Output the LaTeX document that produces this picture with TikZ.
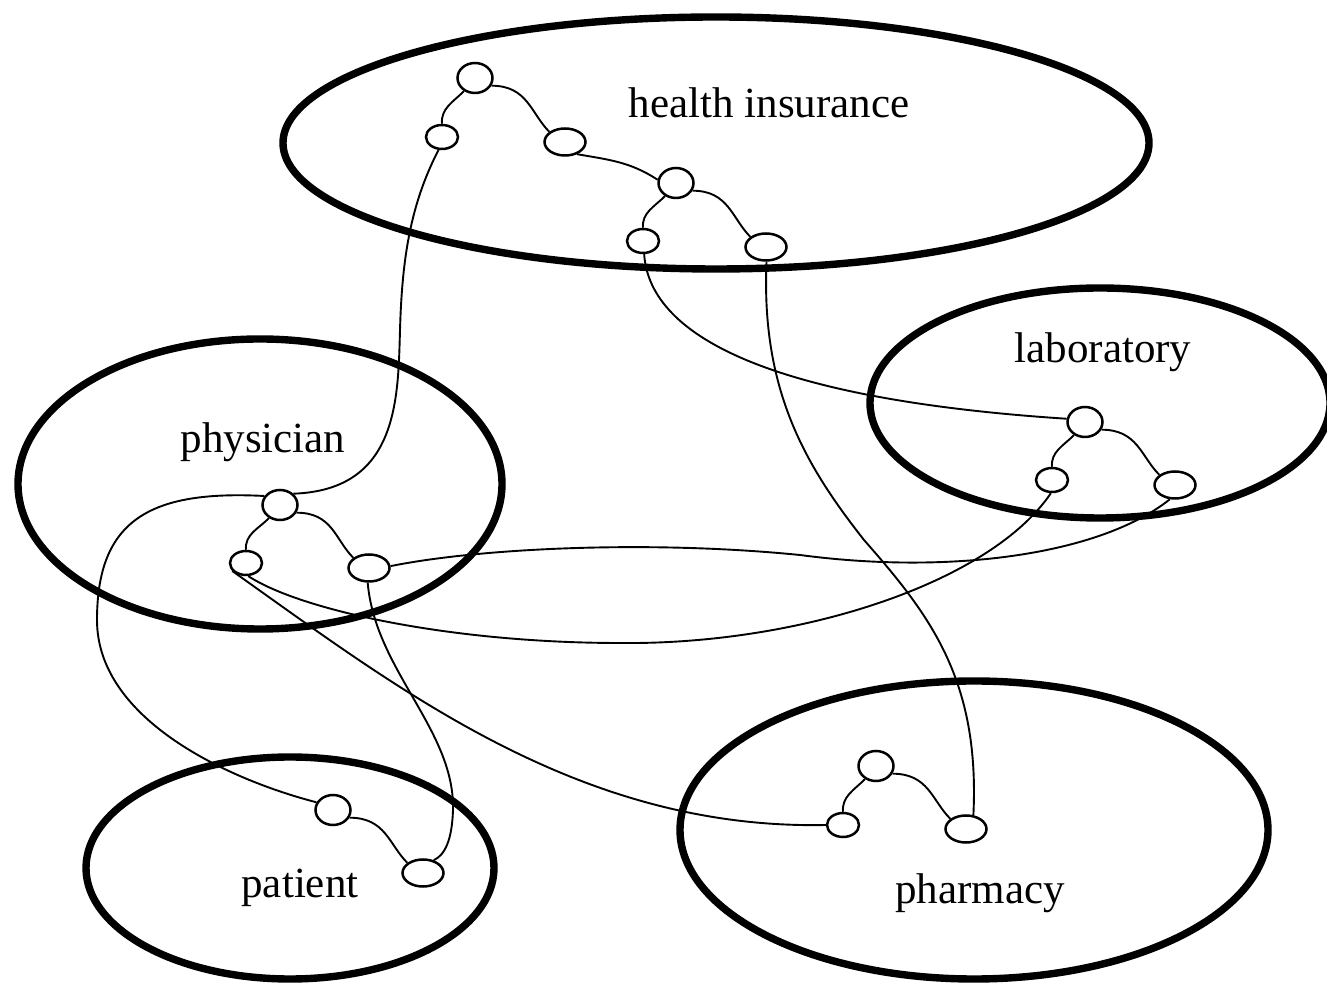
\documentclass[tikz,border=0pt]{standalone}
\usepackage{fontspec}
\setmainfont{Liberation Serif}
\usetikzlibrary{shapes.geometric}
\begin{document}
\begin{tikzpicture}[x=1pt,y=1pt,
  region/.style={draw, ellipse, line width=7.4pt, inner sep=0pt},
  tag/.style={anchor=base, font=\fontsize{43}{50}\selectfont, inner sep=0pt},
  port/.style={draw, ellipse, line width=2.5pt, fill=white, inner sep=0pt},
  tnode/.style={port, minimum width=35pt, minimum height=30pt},
  lnode/.style={port, minimum width=32pt, minimum height=24pt},
  rnode/.style={port, minimum width=41pt, minimum height=27pt},
  link/.style={line width=1.9pt},
  lkid/.style={link, out=-135, in=95},
  rkid/.style={link, out=0, in=135, out distance=36pt, in distance=26pt},
]
\useasboundingbox (0,0) rectangle (1327,985);

% organisations
\node[region, minimum width=866pt, minimum height=252pt] (insurance) at (716,842) {};
\node[region, minimum width=460pt, minimum height=230pt] (lab) at (1100,582) {};
\node[region, minimum width=484pt, minimum height=290pt] (phys) at (260,501) {};
\node[region, minimum width=408pt, minimum height=222pt] (pat) at (290,117) {};
\node[region, minimum width=588pt, minimum height=298pt] (pharm) at (974,155) {};

\node[tag] (tins) at (769,867) {health insurance};
\node[tag] (tlab) at (1103,622) {laboratory};
\node[tag] (tphys) at (263,532) {physician};
\node[tag] (tpat) at (300,88) {patient};
\node[tag] (tpharm) at (980,82) {pharmacy};

% processes inside each organisation
\node[tnode] (h1) at (475,907) {};
\node[lnode] (h2) at (442,848) {};
\node[rnode] (h3) at (565,843) {};
\node[tnode] (h4) at (676,802) {};
\node[lnode] (h5) at (643,744) {};
\node[rnode] (h6) at (766,738) {};

\node[tnode] (p1) at (280,480) {};
\node[lnode] (p2) at (246,422) {};
\node[rnode] (p3) at (369,417) {};

\node[tnode] (l1) at (1085,563) {};
\node[lnode] (l2) at (1052,505) {};
\node[rnode] (l3) at (1175,500) {};

\node[tnode] (pa1) at (333,175) {};
\node[rnode] (pa2) at (423,112) {};

\node[tnode] (ph1) at (876,219) {};
\node[lnode] (ph2) at (843,160) {};
\node[rnode] (ph3) at (966,156) {};

% local links
\draw[lkid] (h1.-130) to (h2.north);
\draw[rkid] (h1.-25) to (h3.147);
\draw[link] (h3.-45) to[out=-10, in=147] (h4.170);
\draw[lkid] (h4.-130) to (h5.north);
\draw[rkid] (h4.-25) to (h6.147);
\draw[lkid] (p1.-130) to (p2.north);
\draw[rkid] (p1.-25) to (p3.147);
\draw[lkid] (l1.-130) to (l2.north);
\draw[rkid] (l1.-25) to (l3.147);
\draw[rkid] (pa1.-25) to (pa2.147);
\draw[lkid] (ph1.-130) to (ph2.north);
\draw[rkid] (ph1.-25) to (ph3.147);

% links between organisations
\draw[link] (h2.-105) .. controls (410,780) and (402,725) .. (400,655)
            .. controls (398,585) and (398,495) .. (p1.40);
\draw[link] (h5.-85) .. controls (650,645) and (780,585) .. (l1.170);
\draw[link] (h6.-88) .. controls (761,595) and (805,520) .. (864,445)
            .. controls (930,370) and (980,305) .. (ph3.62);
\draw[link] (p1.150) .. controls (150,495) and (97,465) .. (97,365)
            .. controls (97,265) and (230,205) .. (pa1.155);
\draw[link] (p3.5) .. controls (480,437) and (650,445) .. (800,430)
            .. controls (950,410) and (1100,430) .. (l3.-110);
\draw[link] (p2.-80) .. controls (300,375) and (450,342) .. (620,342)
            .. controls (800,340) and (990,402) .. (l2.-95);
\draw[link] (p2.-150) .. controls (400,295) and (580,155) .. (ph2.west);
\draw[link] (p3.-95) .. controls (375,315) and (455,255) .. (453,175)
            .. controls (452,145) and (445,130) .. (pa2.50);
\end{tikzpicture}
\end{document}
